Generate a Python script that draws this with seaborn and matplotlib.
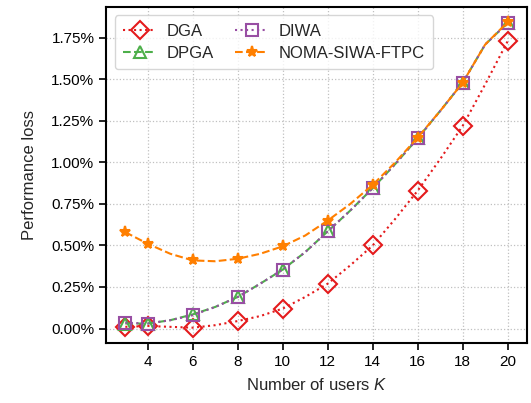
import matplotlib
matplotlib.use("Agg")
import matplotlib.pyplot as plt
import numpy as np
import seaborn as sns
from matplotlib.ticker import PercentFormatter

# Number of users K (curves drawn at every K, markers at the plotted K values)
K = [3, 4, 5, 6, 7, 8, 9, 10, 11, 12, 13, 14, 15, 16, 17, 18, 19, 20]
marked_K = [3, 4, 6, 8, 10, 12, 14, 16, 18, 20]

# Performance loss in percent
dga = [0.01, 0.015, 0.01, 0.005, 0.02, 0.045, 0.075, 0.12, 0.19, 0.27, 0.38, 0.50, 0.66, 0.83, 1.02, 1.22, 1.47, 1.73]
dpga = [0.03, 0.03, 0.05, 0.085, 0.13, 0.19, 0.27, 0.355, 0.46, 0.585, 0.71, 0.845, 0.99, 1.145, 1.31, 1.48, 1.71, 1.84]
diwa = [0.035, 0.03, 0.05, 0.08, 0.13, 0.19, 0.27, 0.355, 0.46, 0.585, 0.71, 0.845, 0.99, 1.145, 1.31, 1.48, 1.71, 1.84]
noma = [0.58, 0.51, 0.45, 0.41, 0.405, 0.42, 0.45, 0.495, 0.56, 0.65, 0.75, 0.865, 1.0, 1.15, 1.31, 1.48, 1.71, 1.845]

series = [
    ("DGA", dga, "#e41a1c", ":", "D", "none"),
    ("DPGA", dpga, "#4daf4a", "--", "^", "none"),
    ("DIWA", diwa, "#984ea3", ":", "s", "none"),
    ("NOMA-SIWA-FTPC", noma, "#ff7f00", "--", "*", "#ff7f00"),
]

sns.set_style("ticks")
plt.rcParams["font.family"] = ["Liberation Sans", "DejaVu Sans"]
plt.rcParams["mathtext.fontset"] = "custom"
plt.rcParams["mathtext.it"] = "Liberation Sans:italic"

fig = plt.figure(figsize=(5.31, 4.03), dpi=100)
ax = fig.add_axes([0.2, 0.149, 0.792, 0.834])

mark_idx = [K.index(k) for k in marked_K]
for name, vals, color, ls, marker, mfc in series:
    sns.lineplot(x=K, y=vals, ax=ax, label=name, color=color, linestyle=ls,
                 linewidth=1.5, marker=marker, markevery=mark_idx,
                 markersize=9 if marker != "*" else 8,
                 markerfacecolor=mfc, markeredgecolor=color, markeredgewidth=1.5)

ax.set_xticks([4, 6, 8, 10, 12, 14, 16, 18, 20])
ax.set_yticks(np.arange(0, 1.76, 0.25))
ax.yaxis.set_major_formatter(PercentFormatter(decimals=2))
ax.grid(True, linestyle=":", color="#c0c0c0", linewidth=0.9)
ax.tick_params(labelsize=11, width=1.2, length=5, colors="black")
for s in ax.spines.values():
    s.set_linewidth(1.5)
    s.set_color("black")

ax.set_xlabel("Number of users $K$", fontsize=12, labelpad=6)
ax.set_ylabel("Performance loss", fontsize=12, labelpad=10)

leg = ax.legend(loc="upper left", ncol=2, fontsize=12, handlelength=2.0,
                columnspacing=1.3, handletextpad=0.6, borderpad=0.5,
                labelspacing=0.45, frameon=True, fancybox=True)
leg.get_frame().set_edgecolor("#cccccc")

fig.savefig("out.png", dpi=100)
